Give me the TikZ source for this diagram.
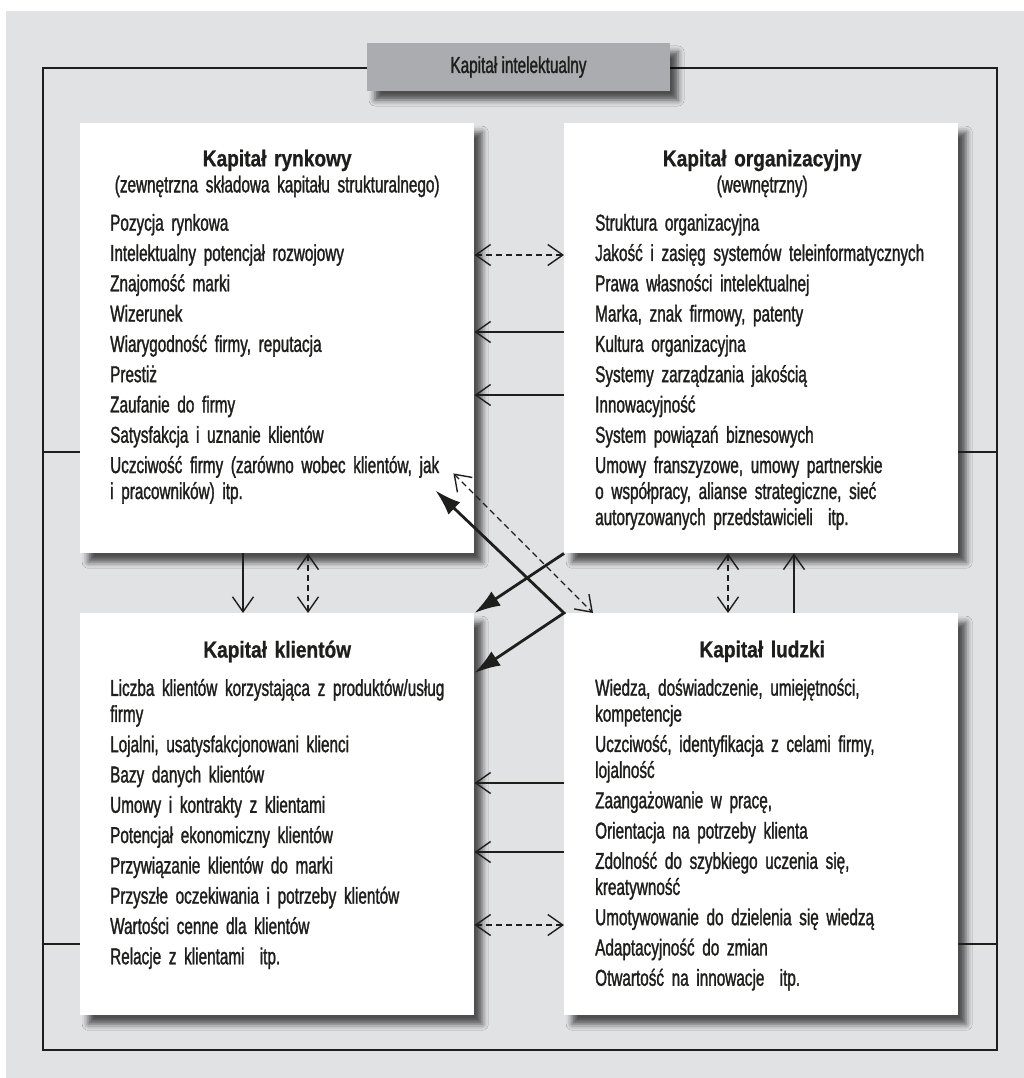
\documentclass[tikz,border=0pt]{standalone}
\usepackage{fontspec}
\setmainfont{Liberation Sans}[FakeStretch=0.665, FakeBold=1.3]
\newfontfamily\naglowekfont{Liberation Sans}[FakeStretch=0.83, FakeBold=0.8]
\usetikzlibrary{arrows.meta, shadows.blur}
\definecolor{tlo}{HTML}{E1E2E4}
\definecolor{szary}{HTML}{ABACAF}
\definecolor{tusz}{HTML}{1E1E1C}
\newcommand{\naglowek}{\naglowekfont\bfseries}
\newcommand{\srodek}[1]{\makebox[334pt]{#1}}

\begin{document}
\begin{tikzpicture}[x=1pt, y=-1pt,
    >={Straight Barb[length=15pt, width=21pt]},
    panel/.style={fill=white, anchor=north west, minimum width=394pt, inner sep=0pt,
        blur shadow={shadow xshift=8pt, shadow yshift=-9pt, shadow blur radius=6pt, shadow opacity=65}},
    tekst/.style={anchor=north west, inner sep=0pt, text width=380pt, align=left, text=tusz,
        font=\fontsize{23}{26}\selectfont\setlength{\parskip}{4.3pt}},
    ramalinia/.style={draw=tusz, line width=1.8pt},
    cienka/.style={draw=tusz, line width=1.4pt},
    przerywana/.style={dash pattern=on 6pt off 4pt},
    gruba/.style={draw=tusz, line width=2.8pt}]
        % Background and frame
        \useasboundingbox (0,0) rectangle (1024,1078);
        \fill[tlo] (6,11) rectangle (1024,1078);
        \node[ramalinia, anchor=north west, inner sep=0pt, minimum width=954pt, minimum height=982pt] (ramka) at (42,67) {};

        % Nodes
        \node[panel, minimum height=430pt] (rynek) at (80,123) {};
        \node[panel, minimum height=430pt] (organizacja) at (564,123) {};
        \node[panel, minimum height=402pt] (klienci) at (80,613) {};
        \node[panel, minimum height=402pt] (ludzie) at (564,613) {};
        \node[fill=szary, minimum width=303pt, minimum height=48pt, inner sep=0pt, text=tusz,
            font=\fontsize{23}{26}\selectfont,
            blur shadow={shadow xshift=8pt, shadow yshift=-9pt, shadow blur radius=6pt, shadow opacity=65}]
            (kapital) at (518.5,67) {Kapitał intelektualny};

        % Texts
        \node[tekst] (rynektekst) at (110,149.5) {%
            \srodek{\naglowek Kapitał rynkowy}\\\srodek{(zewnętrzna składowa kapitału strukturalnego)}\par
            \vspace{8pt}
            Pozycja rynkowa\par
            Intelektualny potencjał rozwojowy\par
            Znajomość marki\par
            Wizerunek\par
            Wiarygodność firmy, reputacja\par
            Prestiż\par
            Zaufanie do firmy\par
            Satysfakcja i uznanie klientów\par
            Uczciwość firmy (zarówno wobec klientów, jak\\i pracowników) itp.};
        \node[tekst] (organizacjatekst) at (595,149.5) {%
            \srodek{\naglowek Kapitał organizacyjny}\\\srodek{(wewnętrzny)}\par
            \vspace{8pt}
            Struktura organizacyjna\par
            Jakość i zasięg systemów teleinformatycznych\par
            Prawa własności intelektualnej\par
            Marka, znak firmowy, patenty\par
            Kultura organizacyjna\par
            Systemy zarządzania jakością\par
            Innowacyjność\par
            System powiązań biznesowych\par
            Umowy franszyzowe, umowy partnerskie\\o współpracy, alianse strategiczne, sieć\\autoryzowanych przedstawicieli\ \ itp.};
        \node[tekst] (kliencitekst) at (110,640.5) {%
            \srodek{\naglowek Kapitał klientów}\par
            \vspace{8pt}
            Liczba klientów korzystająca z produktów/usług\\firmy\par
            Lojalni, usatysfakcjonowani klienci\par
            Bazy danych klientów\par
            Umowy i kontrakty z klientami\par
            Potencjał ekonomiczny klientów\par
            Przywiązanie klientów do marki\par
            Przyszłe oczekiwania i potrzeby klientów\par
            Wartości cenne dla klientów\par
            Relacje z klientami\ \ itp.};
        \node[tekst] (ludzietekst) at (595,640.5) {%
            \srodek{\naglowek Kapitał ludzki}\par
            \vspace{8pt}
            Wiedza, doświadczenie, umiejętności,\\kompetencje\par
            Uczciwość, identyfikacja z celami firmy,\\lojalność\par
            Zaangażowanie w pracę,\par
            Orientacja na potrzeby klienta\par
            Zdolność do szybkiego uczenia się,\\kreatywność\par
            Umotywowanie do dzielenia się wiedzą\par
            Adaptacyjność do zmian\par
            Otwartość na innowacje\ \ itp.};

        % Frame links
        \coordinate (poziomA) at (0,452);
        \coordinate (poziomB) at (0,944);
        \draw[ramalinia] (ramka.west |- poziomA) -- (rynek.west |- poziomA);
        \draw[ramalinia] (organizacja.east |- poziomA) -- (ramka.east |- poziomA);
        \draw[ramalinia] (ramka.west |- poziomB) -- (klienci.west |- poziomB);
        \draw[ramalinia] (ludzie.east |- poziomB) -- (ramka.east |- poziomB);

        % Arrows
        \draw[cienka, przerywana, <->] ([yshift=-132pt]rynek.north east) -- ([yshift=-132pt]organizacja.north west);
        \draw[cienka, ->] ([yshift=-209pt]organizacja.north west) -- ([yshift=-209pt]rynek.north east);
        \draw[cienka, ->] ([yshift=-272pt]organizacja.north west) -- ([yshift=-272pt]rynek.north east);
        \draw[cienka, ->] ([yshift=-170pt]ludzie.north west) -- ([yshift=-170pt]klienci.north east);
        \draw[cienka, ->] ([yshift=-239pt]ludzie.north west) -- ([yshift=-239pt]klienci.north east);
        \draw[cienka, przerywana, <->] ([yshift=-312pt]klienci.north east) -- ([yshift=-312pt]ludzie.north west);
        \draw[cienka, ->] ([xshift=163pt]rynek.south west) -- ([xshift=163pt]klienci.north west);
        \draw[cienka, przerywana, <->] ([xshift=228pt]rynek.south west) -- ([xshift=228pt]klienci.north west);
        \draw[cienka, przerywana, <->] ([xshift=164pt]organizacja.south west) -- ([xshift=164pt]ludzie.north west);
        \draw[cienka, ->] ([xshift=230pt]ludzie.north west) -- ([xshift=230pt]organizacja.south west);
        \draw[gruba, -{Latex[length=26pt, width=17pt]}] (organizacja.south west) -- (klienci.north east);
        \draw[gruba, {Latex[length=26pt, width=17pt]}-{Latex[length=26pt, width=17pt]}]
            ([xshift=-39pt, yshift=63pt]rynek.south east) -- (ludzie.north west) -- ([yshift=-60pt]klienci.north east);
        \draw[cienka, przerywana, <->] ([xshift=-21pt, yshift=80pt]rynek.south east) -- ([xshift=29pt]ludzie.north west);
\end{tikzpicture}
\end{document}
